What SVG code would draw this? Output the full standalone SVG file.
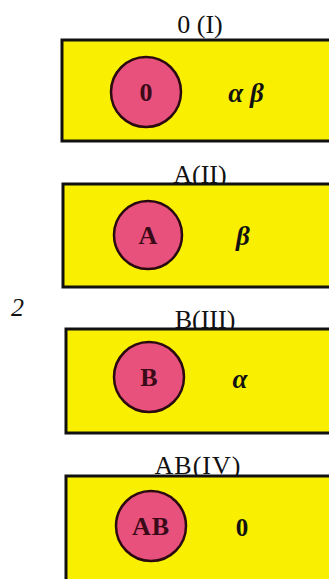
<svg xmlns="http://www.w3.org/2000/svg" width="329" height="579" viewBox="0 0 329 579">
<style>
.box{fill:#f8f000;stroke:#111;stroke-width:3}
.cir{fill:#e8517c;stroke:#2a0a10;stroke-width:2.5}
.t{font-family:"Liberation Serif",serif;fill:#111}
.ttl{font-size:26px;text-anchor:middle}
.in{font-size:26px;font-weight:bold;text-anchor:middle;fill:#3a0a18}
.gr{font-size:27px;font-style:italic;font-weight:bold;text-anchor:middle}
</style>
<rect width="329" height="579" fill="#fff"/>
<g id="group-0">
<text class="t ttl" x="200" y="33">0 (I)</text>
<rect class="box" x="62" y="40" width="280" height="101"/>
<circle class="cir" cx="146" cy="92" r="35"/>
<text class="t in" x="146" y="101">0</text>
<text class="t gr" x="246" y="102">α β</text>
</g>
<g id="group-A">
<text class="t ttl" x="200" y="183">A(II)</text>
<rect class="box" x="63" y="184" width="280" height="103"/>
<circle class="cir" cx="148" cy="235" r="34"/>
<text class="t in" x="148" y="244">A</text>
<text class="t gr" x="243" y="245">β</text>
</g>
<text id="label-2" class="t" x="11" y="316" font-size="26" font-style="italic">2</text>
<g id="group-B">
<text class="t ttl" x="205" y="328">B(III)</text>
<rect class="box" x="66" y="329" width="280" height="104"/>
<circle class="cir" cx="149" cy="377" r="35"/>
<text class="t in" x="149" y="386">B</text>
<text class="t gr" x="240" y="388">α</text>
</g>
<g id="group-AB">
<text class="t ttl" x="198" y="474" letter-spacing="1">AB(IV)</text>
<rect class="box" x="66" y="476" width="280" height="120"/>
<circle class="cir" cx="151" cy="526" r="35"/>
<text class="t in" x="151" y="535" letter-spacing="1">AB</text>
<text class="t" x="242" y="536" font-size="25" font-weight="bold" text-anchor="middle">0</text>
</g>
<g id="connectors"/>
</svg>
